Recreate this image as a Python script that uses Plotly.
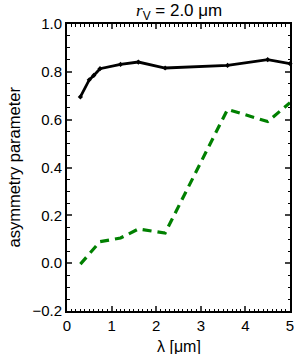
import plotly.graph_objects as go

wavelength = [0.3, 0.5, 0.6, 0.74, 1.2, 1.6, 2.2, 3.6, 4.5, 5.0]
g_total = [0.695, 0.767, 0.785, 0.813, 0.831, 0.841, 0.816, 0.827, 0.851, 0.834]
g_other = [-0.004, 0.04, 0.06, 0.09, 0.105, 0.143, 0.126, 0.643, 0.592, 0.671]

x_ticks = [0, 1, 2, 3, 4, 5]
y_ticks = [-0.2, 0.0, 0.2, 0.4, 0.6, 0.8, 1.0]
y_tick_labels = ["\u22120.2", "0.0", "0.2", "0.4", "0.6", "0.8", "1.0"]

fig = go.Figure()
fig.add_trace(go.Scatter(
    x=wavelength, y=g_total, mode="lines+markers",
    line=dict(color="black", width=2.8),
    marker=dict(symbol="diamond", size=4, color="black"),
    showlegend=False, cliponaxis=False,
))
fig.add_trace(go.Scatter(
    x=wavelength, y=g_other, mode="lines",
    line=dict(color="#008000", width=3.2, dash="9px,6px"),
    showlegend=False,
))

font = "Liberation Sans, Arial, sans-serif"
fig.update_layout(
    width=295, height=354,
    margin=dict(l=67, r=5, t=24, b=43),
    paper_bgcolor="white", plot_bgcolor="white",
    font=dict(family=font, size=15, color="black"),
    annotations=[
        dict(text="<span style='font-family:Liberation Serif'><i>r</i></span><sub>V</sub> = 2.0 \u03bcm",
             xref="paper", yref="paper",
             x=0.5, y=1.0, xanchor="center", yanchor="bottom", yshift=-1,
             showarrow=False, font=dict(size=17)),
        dict(text="\u03bb [\u03bcm]", xref="paper", yref="paper",
             x=0.5, y=0, xanchor="center", yanchor="middle", yshift=-35,
             showarrow=False, font=dict(size=16)),
        dict(text="asymmetry parameter", xref="paper", yref="paper",
             x=0, y=0.5, xanchor="center", yanchor="middle", xshift=-54,
             textangle=-90, showarrow=False, font=dict(size=16.5)),
    ],
)
fig.update_xaxes(
    range=[0, 5], tickvals=x_ticks, ticks="inside", ticklen=5, tickwidth=1.5,
    showline=True, linecolor="black", linewidth=2, mirror="allticks",
    showgrid=False, zeroline=False, automargin=False,
    minor=dict(dtick=0.1, ticks="inside", ticklen=2.5, tickwidth=1, tickcolor="black"),
)
fig.update_yaxes(
    range=[-0.2, 1.0], tickvals=y_ticks, ticktext=y_tick_labels,
    ticks="inside", ticklen=5, tickwidth=1.5,
    showline=True, linecolor="black", linewidth=2, mirror="allticks",
    showgrid=False, zeroline=False, automargin=False,
    minor=dict(dtick=0.05, ticks="inside", ticklen=2.5, tickwidth=1, tickcolor="black"),
)

fig.write_html("out.html", config={"displayModeBar": False},
               post_script="document.body.style.margin='0';")
